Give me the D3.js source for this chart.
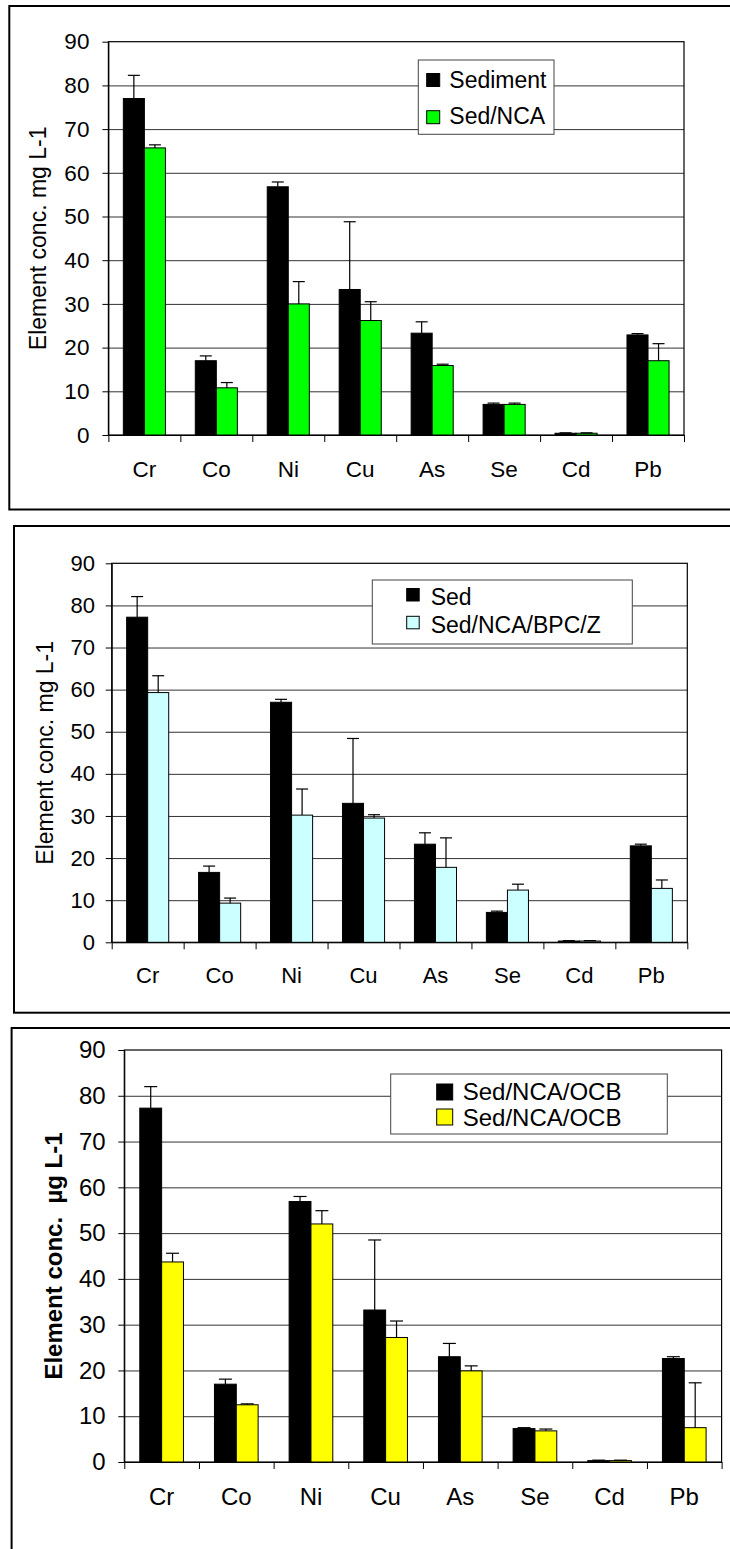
<!DOCTYPE html>
<html>
<head>
<meta charset="utf-8">
<title>Element concentrations</title>
<script src="https://cdn.jsdelivr.net/npm/d3@7/dist/d3.min.js"></script>
<style>
  body { margin: 0; background: #fff; }
  svg { display: block; font-family: "Liberation Sans", Arial, sans-serif; }
</style>
</head>
<body>
<script>
// categories
var elements = ["Cr", "Co", "Ni", "Cu", "As", "Se", "Cd", "Pb"];
var yTicks = [0, 10, 20, 30, 40, 50, 60, 70, 80, 90];

// panel 1
var sediment    = [77.0, 17.0, 56.8, 33.3, 23.3, 7.0, 0.4, 22.9];
var sedimentErr = [5.3, 1.1, 1.1, 15.5, 2.6, 0.3, 0.1, 0.3];
var sedNca      = [65.7, 10.8, 30.0, 26.2, 15.9, 7.0, 0.4, 17.0];
var sedNcaErr   = [0.7, 1.2, 5.1, 4.3, 0.3, 0.3, 0.1, 3.9];

// panel 2
var sed         = [77.2, 16.6, 57.0, 33.0, 23.3, 7.1, 0.3, 22.9];
var sedErr      = [4.9, 1.5, 0.7, 15.4, 2.7, 0.3, 0.1, 0.4];
var sedBpc      = [59.3, 9.3, 30.2, 29.5, 17.8, 12.4, 0.3, 12.8];
var sedBpcErr   = [4.0, 1.2, 6.2, 0.8, 7.0, 1.4, 0.1, 2.0];

// panel 3
var ocbA        = [77.3, 17.0, 56.9, 33.2, 23.0, 7.3, 0.3, 22.6];
var ocbAErr     = [4.7, 1.1, 1.1, 15.3, 2.9, 0.2, 0.1, 0.4];
var ocbB        = [43.7, 12.5, 52.0, 27.2, 19.9, 6.8, 0.3, 7.5];
var ocbBErr     = [1.9, 0.2, 2.9, 3.6, 1.1, 0.4, 0.1, 9.8];

var W = 730, H = 1549;

var svg = d3.select("body").append("svg")
  .attr("width", W)
  .attr("height", H);

var panels = [
  {
    series: [
      {name: "Sediment", values: sediment, errs: sedimentErr, color: "#000000"},
      {name: "Sed/NCA", values: sedNca, errs: sedNcaErr, color: "#00ff00"}
    ],
    title: "Element conc. mg L-1", bold: false,
    left: 108.4, right: 684, top: 41.7, bottom: 435,
    frame: {x: 9.3, y: 6, b: 509.5},
    fs: 22.5, tickPad: 13, cap: 12, titleX: 46, labelDy: 42,
    legend: {x: 418.3, y: 60, w: 135.7, h: 74.3, sw: 13, swX: 426.7, rows: [73.5, 110.7], textX: 449.3, base: [87.7, 124.3], fs: 23}
  },
  {
    series: [
      {name: "Sed", values: sed, errs: sedErr, color: "#000000"},
      {name: "Sed/NCA/BPC/Z", values: sedBpc, errs: sedBpcErr, color: "#ccffff"}
    ],
    title: "Element conc. mg L-1", bold: false,
    left: 111.7, right: 687.3, top: 563.3, bottom: 942.3,
    frame: {x: 14, y: 526, b: 1012.7},
    fs: 22, tickPad: 10.7, cap: 12, titleX: 53, labelDy: 41,
    legend: {x: 372.3, y: 580, w: 260, h: 64, sw: 12.5, swX: 406.7, rows: [588.5, 616.3], textX: 430.7, base: [605, 632.7], fs: 23}
  },
  {
    series: [
      {name: "Sed/NCA/OCB", values: ocbA, errs: ocbAErr, color: "#000000"},
      {name: "Sed/NCA/OCB", values: ocbB, errs: ocbBErr, color: "#ffff00"}
    ],
    title: "Element conc.  \u00b5g L-1", bold: true,
    left: 124.3, right: 721.6, top: 1050, bottom: 1462,
    frame: {x: 11.6, y: 1028, b: 1570},
    fs: 24, tickPad: 12.7, cap: 13, titleX: 62, labelDy: 43,
    legend: {x: 390.7, y: 1074, w: 276.6, h: 60, sw: 16, swX: 436.7, rows: [1084, 1109], textX: 462.7, base: [1099.5, 1125.5], fs: 24}
  }
];

panels.forEach(function(p) {
  // outer frame of the panel
  svg.append("rect")
    .attr("x", p.frame.x)
    .attr("y", p.frame.y)
    .attr("width", W + 10 - p.frame.x)
    .attr("height", p.frame.b - p.frame.y)
    .attr("fill", "none")
    .attr("stroke", "#000")
    .attr("stroke-width", 2);

  var g = svg.append("g");
  var pw = p.right - p.left;

  var y = d3.scaleLinear().domain([0, 90]).range([p.bottom, p.top]);
  var x = d3.scaleBand().domain(elements).range([p.left, p.right]).padding(0);
  var xs = d3.scaleBand().domain([0, 1]).range([0, x.bandwidth()]).paddingInner(0).paddingOuter(0.71);
  var xEdge = d3.scaleLinear().domain([0, elements.length]).range([p.left, p.right]);

  // gridlines
  g.append("g")
    .attr("transform", "translate(" + p.left + ",0)")
    .call(d3.axisLeft(y).tickValues(yTicks.slice(1, -1)).tickSize(-pw).tickFormat(""))
    .call(function(s) { s.select(".domain").remove(); })
    .selectAll("line").attr("stroke", "#333");

  // plot border
  g.append("rect")
    .attr("x", p.left).attr("y", p.top)
    .attr("width", pw).attr("height", p.bottom - p.top)
    .attr("fill", "none").attr("stroke", "#000").attr("stroke-width", 1.2);

  // legend box (sits over gridlines)
  var L = p.legend;
  var leg = svg.append("g");
  leg.append("rect")
    .attr("x", L.x).attr("y", L.y).attr("width", L.w).attr("height", L.h)
    .attr("fill", "#fff").attr("stroke", "#444").attr("stroke-width", 1);
  p.series.forEach(function(s, i) {
    leg.append("rect")
      .attr("x", L.swX).attr("y", L.rows[i]).attr("width", L.sw).attr("height", L.sw)
      .attr("fill", s.color).attr("stroke", "#000").attr("stroke-width", 1);
    leg.append("text")
      .attr("x", L.textX).attr("y", L.base[i])
      .attr("font-size", L.fs + "px")
      .attr("fill", "#000")
      .text(s.name);
  });

  // bars
  p.series.forEach(function(s, si) {
    var bg = g.append("g");
    bg.selectAll("rect")
      .data(s.values)
      .enter()
      .append("rect")
      .attr("x", function(d, i) { return x(elements[i]) + xs(si); })
      .attr("y", function(d) { return y(d); })
      .attr("width", xs.bandwidth())
      .attr("height", function(d) { return y(0) - y(d); })
      .attr("fill", s.color)
      .attr("stroke", "#000")
      .attr("stroke-width", 1);

    // error bars (upper only)
    var eg = g.append("g").attr("stroke", "#000").attr("stroke-width", 1.2);
    s.values.forEach(function(d, i) {
      var cx = x(elements[i]) + xs(si) + xs.bandwidth() / 2;
      var top = y(d + s.errs[i]);
      eg.append("line")
        .attr("x1", cx).attr("x2", cx)
        .attr("y1", y(d)).attr("y2", top);
      eg.append("line")
        .attr("x1", cx - p.cap / 2).attr("x2", cx + p.cap / 2)
        .attr("y1", top).attr("y2", top);
    });
  });

  // y axis
  var ya = g.append("g")
    .attr("transform", "translate(" + p.left + ",0)")
    .call(d3.axisLeft(y).tickValues(yTicks).tickSize(6).tickPadding(p.tickPad).tickSizeOuter(0));
  ya.selectAll("text").attr("font-size", p.fs + "px").attr("fill", "#000").attr("font-family", "Liberation Sans, Arial, sans-serif");
  ya.selectAll("line, path").attr("stroke", "#000");

  // x axis: boundary ticks
  var xa = g.append("g")
    .attr("transform", "translate(0," + p.bottom + ")")
    .call(d3.axisBottom(xEdge).tickValues(d3.range(elements.length + 1)).tickSize(7).tickFormat("").tickSizeOuter(0));
  xa.selectAll("line, path").attr("stroke", "#000");

  // x labels at category centres
  var xl = g.append("g")
    .attr("transform", "translate(0," + p.bottom + ")")
    .call(d3.axisBottom(x).tickSize(0).tickPadding(0));
  xl.select(".domain").remove();
  xl.selectAll("text")
    .attr("dy", null)
    .attr("y", p.labelDy)
    .attr("font-size", p.fs + "px")
    .attr("fill", "#000")
    .attr("font-family", "Liberation Sans, Arial, sans-serif");

  // y title
  svg.append("text")
    .attr("transform", "translate(" + p.titleX + "," + ((p.top + p.bottom) / 2) + ") rotate(-90)")
    .attr("text-anchor", "middle")
    .attr("font-size", (p.bold ? 24 : 23) + "px")
    .attr("font-weight", p.bold ? "bold" : "normal")
    .attr("xml:space", "preserve")
    .style("white-space", "pre")
    .attr("fill", "#000")
    .text(p.title);
});
</script>
</body>
</html>
